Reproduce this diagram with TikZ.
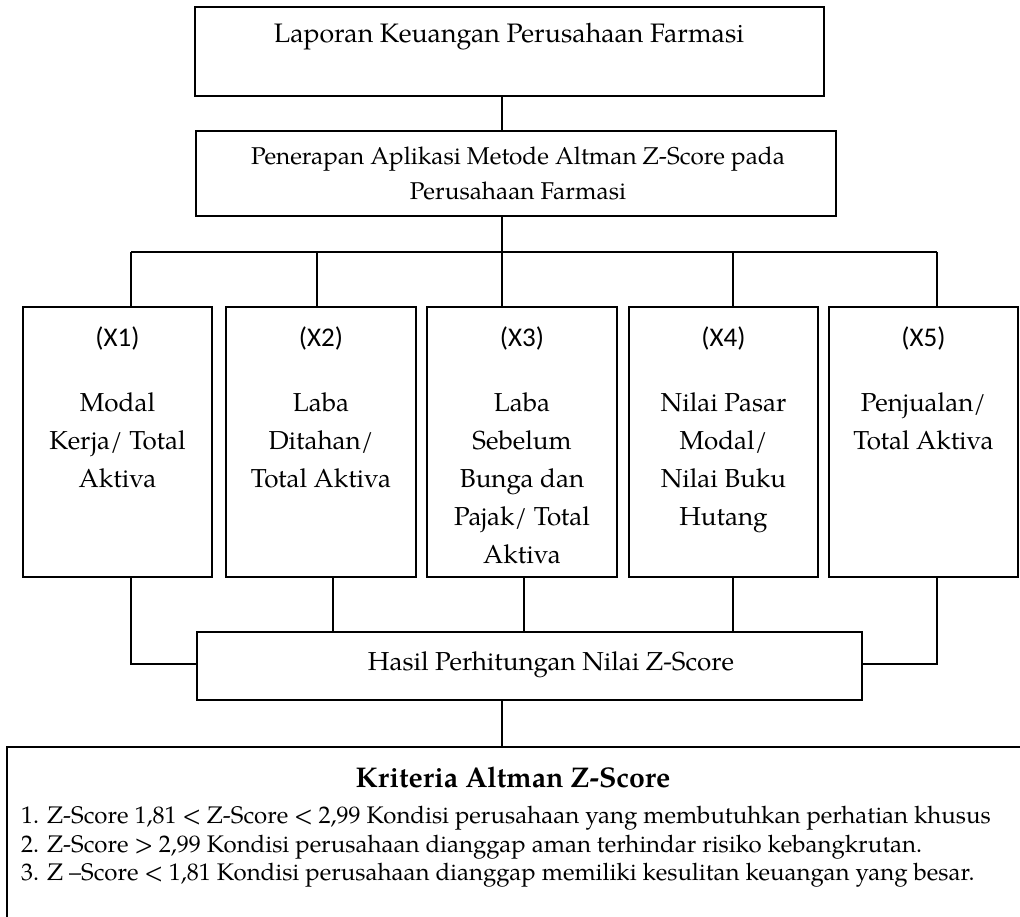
\documentclass[tikz,border=0pt]{standalone}
\usepackage{fontspec}
\setmainfont{TeX Gyre Pagella}
\newfontfamily\calfont{Carlito}
\begin{document}
\begin{tikzpicture}[x=1pt,y=-1pt,
  box/.style={draw, line width=1.6pt, inner sep=0pt, outer sep=0pt},
  conn/.style={line width=1.6pt},
  txt/.style={inner sep=0pt, align=center, font=\fontsize{26}{38}\selectfont},
  xlab/.style={inner sep=0pt, font=\calfont\fontsize{27}{30}\selectfont},
  crittxt/.style={inner sep=0pt, align=left, font=\fontsize{24}{28.5}\selectfont}]
\fill[white] (0,0) rectangle (1020,917);
\clip (0,0) rectangle (1020,917);
% boxes
\node[box, minimum width=629pt, minimum height=89pt] (b1) at (509.5,51.5) {};
\node[box, minimum width=640pt, minimum height=85pt] (b2) at (516,173.5) {};
\node[box, minimum width=189pt, minimum height=270pt] (x1) at (117.5,442) {};
\node[box, minimum width=190pt, minimum height=270pt] (x2) at (321,442) {};
\node[box, minimum width=190pt, minimum height=270pt] (x3) at (522,442) {};
\node[box, minimum width=189pt, minimum height=270pt] (x4) at (723.5,442) {};
\node[box, minimum width=189pt, minimum height=270pt] (x5) at (923.5,442) {};
\node[box, minimum width=665pt, minimum height=68pt] (hasil) at (529.5,666) {};
\node[box, minimum width=1023pt, minimum height=183pt] (crit) at (518.5,838.5) {};
% texts
\node[txt, font=\fontsize{26.7}{38}\selectfont] (t1) at (509,37) {Laporan Keuangan Perusahaan Farmasi};
\node[txt, anchor=north, font=\fontsize{24.3}{35}\selectfont] (t2) at (518,147) {Penerapan Aplikasi Metode Altman Z-Score pada\\Perusahaan Farmasi};
\node[xlab] (l1) at (117.5,338) {(X1)};
\node[xlab] (l2) at (321,338) {(X2)};
\node[xlab] (l3) at (522,338) {(X3)};
\node[xlab] (l4) at (723.5,338) {(X4)};
\node[xlab] (l5) at (923.5,338) {(X5)};
\node[txt, anchor=north] (d1) at (117.5,392) {Modal\\Kerja/ Total\\Aktiva};
\node[txt, anchor=north] (d2) at (321,392) {Laba\\Ditahan/\\Total Aktiva};
\node[txt, anchor=north] (d3) at (522,392) {Laba\\Sebelum\\Bunga dan\\Pajak/ Total\\Aktiva};
\node[txt, anchor=north] (d4) at (723.5,392) {Nilai Pasar\\Modal/\\Nilai Buku\\Hutang};
\node[txt, anchor=north] (d5) at (923.5,392) {Penjualan/\\Total Aktiva};
\node[txt] (th) at (551,665) {Hasil Perhitungan Nilai Z-Score};
\node[txt, font=\bfseries\fontsize{28.5}{32}\selectfont] (tk) at (513,777) {Kriteria Altman Z-Score};
\node[crittxt, anchor=north west] (items) at (21,806) {1. Z-Score 1,81 < Z-Score < 2,99 Kondisi perusahaan yang membutuhkan perhatian khusus\\
2. Z-Score > 2,99 Kondisi perusahaan dianggap aman terhindar risiko kebangkrutan.\\
3. Z –Score < 1,81 Kondisi perusahaan dianggap memiliki kesulitan keuangan yang besar.};
% connector coordinates
\coordinate (mx) at (502,0);
\coordinate (h1) at (131,252);
\coordinate (h2) at (317,252);
\coordinate (h3) at (502,252);
\coordinate (h4) at (733,252);
\coordinate (h5) at (937,252);
\coordinate (j1) at (131,664);
\coordinate (j5) at (937,664);
\coordinate (e2) at (333,0);
\coordinate (e3) at (524,0);
\coordinate (e4) at (733,0);
% connectors
\draw[conn] (b1.south -| mx) -- (b2.north -| mx);
\draw[conn] (b2.south -| mx) -- (h3);
\draw[conn] (h1) -- (h5);
\draw[conn] (h1) -- (h1 |- x1.north);
\draw[conn] (h2) -- (h2 |- x2.north);
\draw[conn] (h3) -- (h3 |- x3.north);
\draw[conn] (h4) -- (h4 |- x4.north);
\draw[conn] (h5) -- (h5 |- x5.north);
\draw[conn] (x1.south -| j1) -- (j1) -- (j1 -| hasil.west);
\draw[conn] (x5.south -| j5) -- (j5) -- (j5 -| hasil.east);
\draw[conn] (x2.south -| e2) -- (hasil.north -| e2);
\draw[conn] (x3.south -| e3) -- (hasil.north -| e3);
\draw[conn] (x4.south -| e4) -- (hasil.north -| e4);
\draw[conn] (hasil.south -| mx) -- (crit.north -| mx);
\end{tikzpicture}
\end{document}
